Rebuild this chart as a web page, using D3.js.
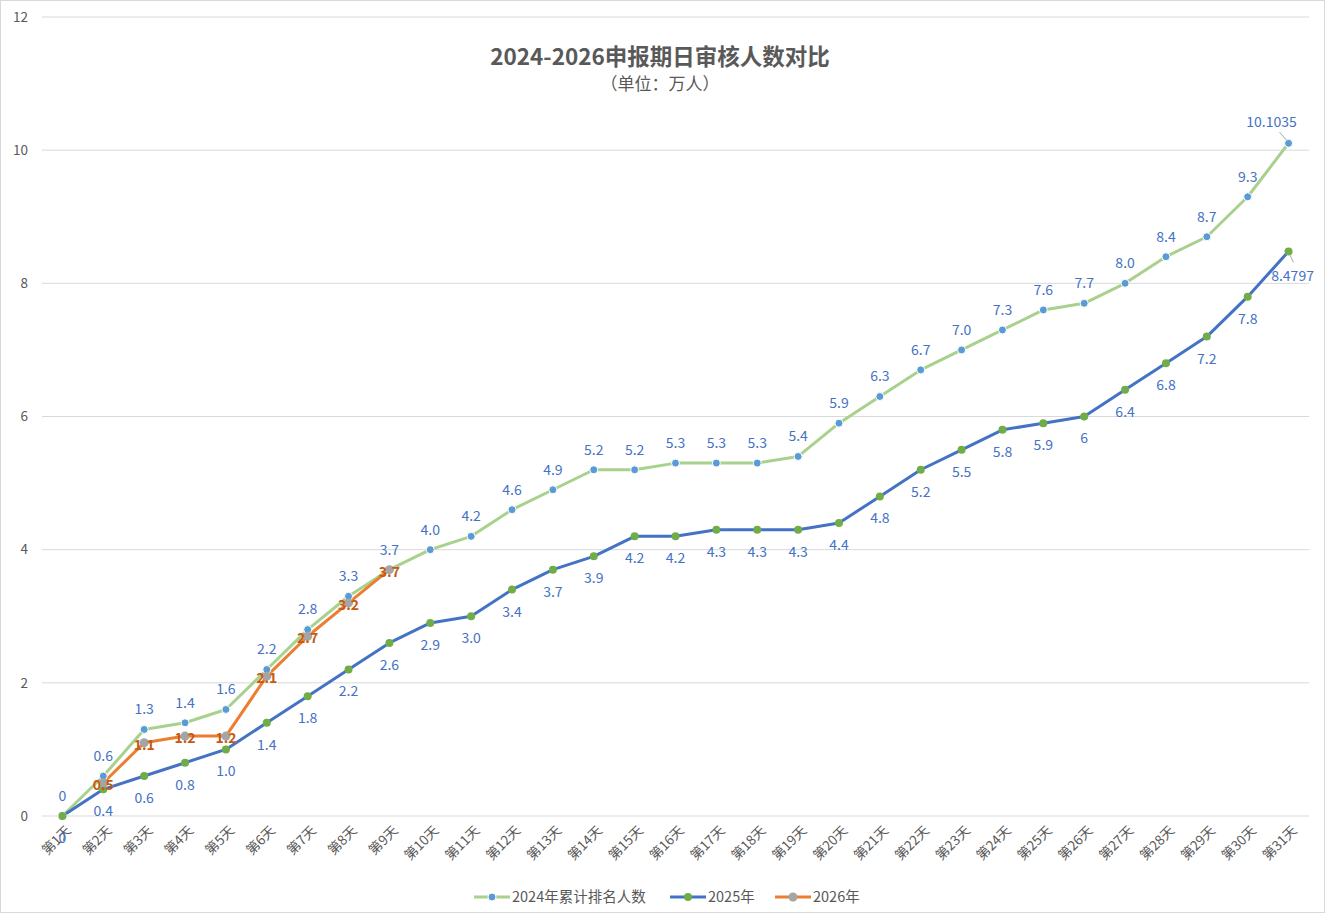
<!DOCTYPE html>
<html>
<head>
<meta charset="utf-8">
<script src="https://cdn.jsdelivr.net/npm/d3@7"></script>
<style>
  body { margin: 0; background: #fff; }
  text { font-family: "Noto Sans CJK SC", "Noto Sans", sans-serif; }
</style>
</head>
<body>
<div id="chart"></div>
<script>
// 2024-2026 daily review counts (unit: 10k people)
var days = d3.range(1, 32).map(function(d) { return "第" + d + "天"; });

var v2024 = [0, 0.6, 1.3, 1.4, 1.6, 2.2, 2.8, 3.3, 3.7, 4.0, 4.2, 4.6, 4.9, 5.2, 5.2, 5.3,
             5.3, 5.3, 5.4, 5.9, 6.3, 6.7, 7.0, 7.3, 7.6, 7.7, 8.0, 8.4, 8.7, 9.3, 10.1035];
var lab2024 = ["0", "0.6", "1.3", "1.4", "1.6", "2.2", "2.8", "3.3", "3.7", "4.0", "4.2", "4.6",
               "4.9", "5.2", "5.2", "5.3", "5.3", "5.3", "5.4", "5.9", "6.3", "6.7", "7.0", "7.3",
               "7.6", "7.7", "8.0", "8.4", "8.7", "9.3", "10.1035"];

var v2025 = [0, 0.4, 0.6, 0.8, 1.0, 1.4, 1.8, 2.2, 2.6, 2.9, 3.0, 3.4, 3.7, 3.9, 4.2, 4.2,
             4.3, 4.3, 4.3, 4.4, 4.8, 5.2, 5.5, 5.8, 5.9, 6, 6.4, 6.8, 7.2, 7.8, 8.4797];
var lab2025 = ["0", "0.4", "0.6", "0.8", "1.0", "1.4", "1.8", "2.2", "2.6", "2.9", "3.0", "3.4",
               "3.7", "3.9", "4.2", "4.2", "4.3", "4.3", "4.3", "4.4", "4.8", "5.2", "5.5", "5.8",
               "5.9", "6", "6.4", "6.8", "7.2", "7.8", "8.4797"];

// 2026 starts on day 2
var v2026 = [null, 0.5, 1.1, 1.2, 1.2, 2.1, 2.7, 3.2, 3.7];
var lab2026 = ["", "0.5", "1.1", "1.2", "1.2", "2.1", "2.7", "3.2", "3.7"];

var yTicks = [0, 2, 4, 6, 8, 10, 12];

var W = 1325, H = 913;
var margin = {top: 17, right: 16, bottom: 97, left: 42};

var svg = d3.select("#chart").append("svg")
  .attr("width", W).attr("height", H);

svg.append("rect").attr("x", 0.5).attr("y", 0.5)
  .attr("width", W - 1).attr("height", H - 1)
  .attr("fill", "#fff").attr("stroke", "#d9d9d9");

var x = d3.scaleBand().domain(days).range([margin.left, W - margin.right]);
var y = d3.scaleLinear().domain([0, 12]).range([H - margin.bottom, margin.top]);
var cx = function(i) { return x(days[i]) + x.bandwidth() / 2; };

// gridlines
svg.append("g").selectAll("line").data(yTicks).join("line")
  .attr("x1", margin.left).attr("x2", W - margin.right)
  .attr("y1", function(d) { return y(d); }).attr("y2", function(d) { return y(d); })
  .attr("stroke", "#d9d9d9").attr("stroke-width", 1);

// y tick labels
svg.append("g").selectAll("text").data(yTicks).join("text")
  .attr("x", 28).attr("y", function(d) { return y(d); })
  .attr("dy", "0.35em").attr("text-anchor", "end")
  .attr("font-size", 13.5).attr("fill", "#595959")
  .text(function(d) { return d; });

// x tick labels
svg.append("g").selectAll("text").data(days).join("text")
  .attr("transform", function(d, i) {
    return "translate(" + (cx(i) + 6) + "," + (H - margin.bottom + 12) + ") rotate(-45)";
  })
  .attr("text-anchor", "end").attr("dy", "0.35em")
  .attr("font-size", 13.5).attr("fill", "#595959")
  .text(function(d) { return d; });

var line = d3.line()
  .defined(function(d) { return d != null; })
  .x(function(d, i) { return cx(i); })
  .y(function(d) { return y(d); });

var series = [
  {name: "2024年累计排名人数", vals: v2024, labs: lab2024, line: "#a9d18e", dot: "#5b9bd5", dotStroke: "#fff", r: 4},
  {name: "2025年", vals: v2025, labs: lab2025, line: "#4472c4", dot: "#70ad47", dotStroke: "none", r: 4},
  {name: "2026年", vals: v2026, labs: lab2026, line: "#ed7d31", dot: "#a5a5a5", dotStroke: "none", r: 4.5}
];

series.forEach(function(s) {
  svg.append("path").datum(s.vals)
    .attr("d", line)
    .attr("fill", "none").attr("stroke", s.line)
    .attr("stroke-width", 3).attr("stroke-linejoin", "round");
});

series.forEach(function(s) {
  svg.append("g").selectAll("circle")
    .data(s.vals.map(function(v, i) { return {v: v, i: i}; }).filter(function(d) { return d.v != null; }))
    .join("circle")
    .attr("cx", function(d) { return cx(d.i); })
    .attr("cy", function(d) { return y(d.v); })
    .attr("r", s.r)
    .attr("fill", s.dot)
    .attr("stroke", s.dotStroke).attr("stroke-width", 1);
});

// data labels
var last = days.length - 1;
var labelSize = 14;

// 2024 above
svg.append("g").selectAll("text").data(lab2024).join("text")
  .attr("x", function(d, i) { return i === last ? cx(i) - 17 : cx(i); })
  .attr("y", function(d, i) { return y(v2024[i]) - (i === last ? 21 : 20); })
  .attr("dy", "0.35em").attr("text-anchor", "middle")
  .attr("font-size", labelSize).attr("fill", "#4472c4")
  .text(function(d) { return d; });

// 2025 below
svg.append("g").selectAll("text").data(lab2025).join("text")
  .attr("x", function(d, i) { return i === last ? cx(i) + 4 : cx(i); })
  .attr("y", function(d, i) { return y(v2025[i]) + (i === last ? 25 : 22); })
  .attr("dy", "0.35em").attr("text-anchor", "middle")
  .attr("font-size", labelSize).attr("fill", "#4472c4")
  .text(function(d) { return d; });

// leader lines for the last points
svg.append("line")
  .attr("x1", cx(last) - 9).attr("y1", y(v2024[last]) - 11)
  .attr("x2", cx(last) - 2).attr("y2", y(v2024[last]) - 3)
  .attr("stroke", "#a6a6a6").attr("stroke-width", 1);
svg.append("line")
  .attr("x1", cx(last) + 1).attr("y1", y(v2025[last]) + 3)
  .attr("x2", cx(last) + 5).attr("y2", y(v2025[last]) + 11)
  .attr("stroke", "#a6a6a6").attr("stroke-width", 1);

// 2026 centered
svg.append("g").selectAll("text").data(lab2026).join("text")
  .attr("x", function(d, i) { return cx(i); })
  .attr("y", function(d, i) { return v2026[i] == null ? 0 : y(v2026[i]) + 2; })
  .attr("dy", "0.35em").attr("text-anchor", "middle")
  .attr("font-size", labelSize).attr("font-weight", "bold").attr("fill", "#c55a11")
  .text(function(d) { return d; });

// title
svg.append("text").attr("x", 660).attr("y", 57)
  .attr("text-anchor", "middle").attr("dy", "0.35em")
  .attr("font-size", 22.5).attr("font-weight", "bold").attr("fill", "#595959")
  .text("2024-2026申报期日审核人数对比");
svg.append("text").attr("x", 660).attr("y", 84)
  .attr("text-anchor", "middle").attr("dy", "0.35em")
  .attr("font-size", 17).attr("fill", "#595959")
  .text("（单位：万人）");

// legend
var legX = [474, 670, 775];
var leg = svg.append("g").selectAll("g").data(series).join("g")
  .attr("transform", function(d, i) { return "translate(" + legX[i] + ",897)"; });
leg.append("line").attr("x1", 0).attr("x2", 36).attr("y1", 0).attr("y2", 0)
  .attr("stroke", function(d) { return d.line; }).attr("stroke-width", 3);
leg.append("circle").attr("cx", 18).attr("cy", 0).attr("r", function(d) { return d.r; })
  .attr("fill", function(d) { return d.dot; })
  .attr("stroke", function(d) { return d.dotStroke; });
leg.append("text").attr("x", 38).attr("dy", "0.35em")
  .attr("font-size", 14.5).attr("fill", "#595959")
  .text(function(d) { return d.name; });
</script>
</body>
</html>
